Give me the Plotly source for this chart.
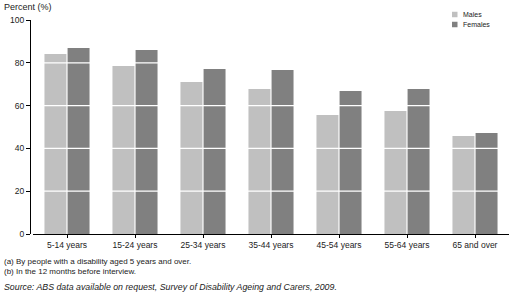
import plotly.graph_objects as go

categories = ["5-14 years", "15-24 years", "25-34 years", "35-44 years",
              "45-54 years", "55-64 years", "65 and over"]
series_names = ["Males", "Females"]
males = [84.1, 78.5, 71.0, 67.8, 55.6, 57.5, 45.8]
females = [86.9, 86.0, 77.1, 76.6, 66.8, 67.8, 47.2]
y_ticks = [0, 20, 40, 60, 80, 100]
colors = ["#c0c0c0", "#808080"]

W, H = 510, 302
ML, MR, MT, MB = 30, 1, 20, 68
PW, PH = W - ML - MR, H - MT - MB

def px(p):
    return (p - ML) / PW

def py(p):
    return (H - MB - p) / PH

FONT = "Liberation Sans, Arial, sans-serif"

fig = go.Figure()
for name, vals, c in zip(series_names, [males, females], colors):
    fig.add_trace(go.Bar(x=categories, y=vals, name=name, marker_color=c,
                         marker_line_width=0, showlegend=False))

shapes = []
# white gridlines drawn over the bars
for t in y_ticks[1:-1]:
    shapes.append(dict(type="line", xref="paper", yref="y", x0=px(33), x1=1,
                       y0=t, y1=t, line=dict(color="white", width=1.2),
                       layer="above"))
# legend squares
legend_y = [14.5, 24.5]
for name, c, ly in zip(series_names, colors, legend_y):
    shapes.append(dict(type="rect", xref="paper", yref="paper",
                       x0=px(452), x1=px(457.5), y0=py(ly + 2.75), y1=py(ly - 2.75),
                       fillcolor=c, line_width=0))

annotations = []
for name, ly in zip(series_names, legend_y):
    annotations.append(dict(text=name, xref="paper", yref="paper", x=px(461),
                            y=py(ly), xanchor="left", yanchor="middle",
                            showarrow=False, font=dict(size=7, color="#222")))
annotations.append(dict(text="Percent (%)", xref="paper", yref="paper", x=px(2),
                        y=py(7), xanchor="left", yanchor="middle", showarrow=False,
                        font=dict(size=9, color="#222")))
notes = [("(a) By people with a disability aged 5 years and over.", 261, 8),
         ("(b) In the 12 months before interview.", 271, 8),
         ("<i>Source: ABS data available on request, Survey of Disability Ageing and Carers, 2009.</i>", 287, 8.8)]
for txt, ly, fs in notes:
    annotations.append(dict(text=txt, xref="paper", yref="paper", x=px(2),
                            y=py(ly), xanchor="left", yanchor="middle",
                            showarrow=False, font=dict(size=fs, color="#222")))

fig.update_layout(
    width=W, height=H,
    margin=dict(l=ML, r=MR, t=MT, b=MB, pad=0),
    paper_bgcolor="white", plot_bgcolor="white",
    barmode="group", bargap=0.32, bargroupgap=0.05,
    font=dict(family=FONT, size=8, color="#222"),
    shapes=shapes, annotations=annotations,
    xaxis=dict(domain=[px(33), 1], showline=True, linecolor="black", linewidth=1,
               ticks="outside", ticklen=3, tickcolor="black", showgrid=False,
               tickfont=dict(size=8.5, color="#222")),
    yaxis=dict(range=[0, 100], tickvals=y_ticks, anchor="free", position=0,
               showline=True, linecolor="black", linewidth=1, ticks="outside",
               ticklen=4, tickcolor="black", showgrid=False, zeroline=False,
               tickfont=dict(size=8.5, color="#222")),
)

fig.write_html("out.html", config={"displayModeBar": False},
               post_script="document.body.style.margin='0';document.body.style.overflow='hidden';")
